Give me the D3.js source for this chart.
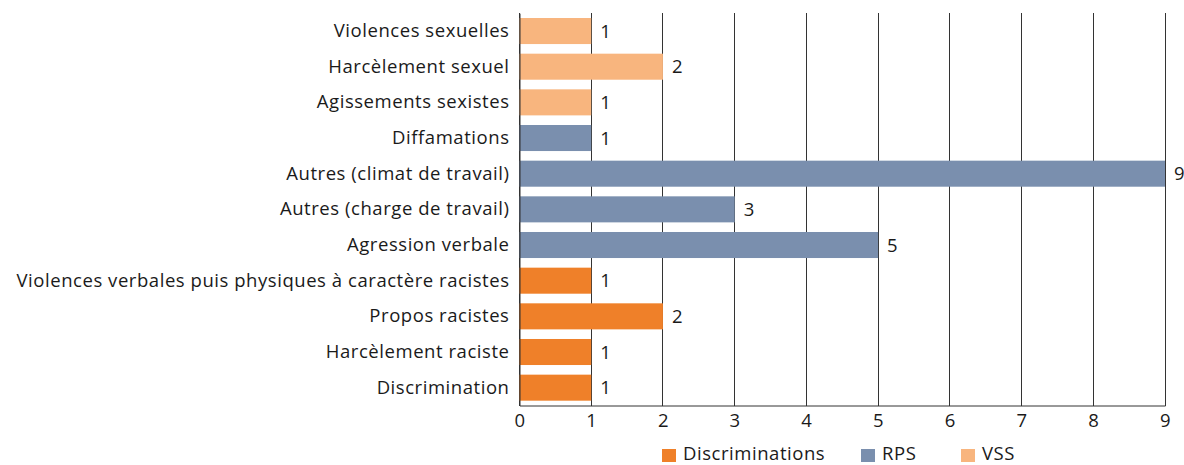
<!DOCTYPE html>
<html><head><meta charset="utf-8">
<script src="https://cdn.jsdelivr.net/npm/d3@7"></script>
<style>body{margin:0;background:#fff;} svg{display:block;font-family:"Open Sans",sans-serif;letter-spacing:0.55px;}</style>
</head><body>
<svg id="c" width="1184" height="465"></svg>
<script>
const categories = ["Violences sexuelles","Harcèlement sexuel","Agissements sexistes","Diffamations","Autres (climat de travail)","Autres (charge de travail)","Agression verbale","Violences verbales puis physiques à caractère racistes","Propos racistes","Harcèlement raciste","Discrimination"];
const values = [1,2,1,1,9,3,5,1,2,1,1];
const groups = ["VSS","VSS","VSS","RPS","RPS","RPS","RPS","Discriminations","Discriminations","Discriminations","Discriminations"];
const legendNames = ["Discriminations","RPS","VSS"];
const legendColors = ["#ef8029","#7a8fae","#f8b57e"];
const xTicks = [0,1,2,3,4,5,6,7,8,9];

const FONT = "'Open Sans',sans-serif";
const FS = 18.5;
const svg = d3.select("#c");
const m = {left:519.5, right:1165, top:13.2, bottom:405.5};
const x = d3.scaleLinear().domain([0,9]).range([m.left, m.right]);
const y = d3.scaleBand().domain(categories).range([m.top, m.bottom]).paddingInner(0.27).paddingOuter(0.135);
const color = d3.scaleOrdinal().domain(legendNames).range(legendColors);

// grid
svg.append("g").selectAll("line").data(xTicks).join("line")
  .attr("x1",d=>x(d)).attr("x2",d=>x(d)).attr("y1",m.top).attr("y2",m.bottom)
  .attr("stroke","#333").attr("stroke-width",1).attr("shape-rendering","crispEdges");

// bars
svg.append("g").selectAll("rect").data(categories).join("rect")
  .attr("x",x(0)).attr("y",d=>y(d)).attr("height",y.bandwidth())
  .attr("width",(d,i)=>x(values[i])-x(0)).attr("fill",(d,i)=>color(groups[i]));

// value labels
svg.append("g").selectAll("text").data(categories).join("text")
  .attr("x",(d,i)=>x(values[i])+9).attr("y",d=>y(d)+y.bandwidth()/2).attr("dy","0.36em")
  .attr("font-size",FS).attr("fill","#1a1a1a").text((d,i)=>values[i]);

// x axis
const xa = svg.append("g").attr("transform",`translate(0,${m.bottom})`)
  .call(d3.axisBottom(x).tickValues(xTicks).tickSize(0).tickPadding(8).tickFormat(d3.format("d")));
xa.select(".domain").attr("stroke","#333");
xa.selectAll("text").attr("font-size",FS).attr("fill","#1a1a1a").attr("font-family",FONT);

// y axis
const ya = svg.append("g").attr("transform",`translate(${m.left},0)`)
  .call(d3.axisLeft(y).tickSize(0).tickPadding(10));
ya.select(".domain").attr("stroke","#333");
ya.selectAll("text").attr("font-size",FS).attr("fill","#1a1a1a").attr("font-family",FONT);

// legend
const lx = [662, 861, 961];
const lg = svg.append("g").selectAll("g").data(legendNames).join("g")
  .attr("transform",(d,i)=>`translate(${lx[i]},449)`);
lg.append("rect").attr("width",14).attr("height",13).attr("fill",d=>color(d));
lg.append("text").attr("x",21).attr("y",11).attr("font-size",FS).attr("fill","#1a1a1a").text(d=>d);
</script>
</body></html>
